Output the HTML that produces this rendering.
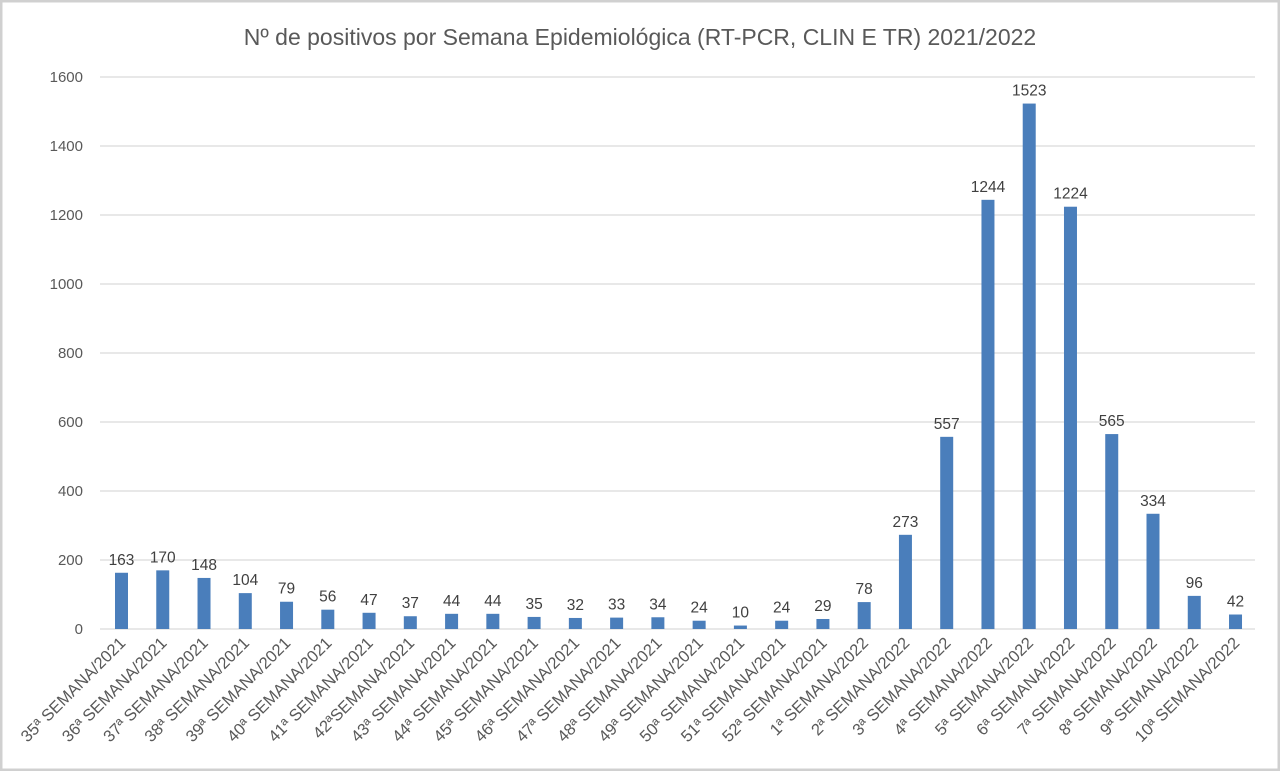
<!DOCTYPE html>
<html><head><meta charset="utf-8"><style>
html,body{margin:0;padding:0;background:#fff}
svg{display:block;font-family:"Liberation Sans",sans-serif}
</style></head><body>
<svg id="c" width="1280" height="771" xmlns="http://www.w3.org/2000/svg">
<rect x="1" y="1" width="1278" height="769" fill="#fff" stroke="#d0d0d0" stroke-width="3"/>
<text x="640" y="45" text-anchor="middle" font-size="23" fill="#595959">Nº de positivos por Semana Epidemiológica (RT-PCR, CLIN E TR) 2021/2022</text>
</svg>
<script>
var s=document.getElementById('c'),h='';
for(var k=0;k<=8;k++){var y=629-k*69;h+='<line x1="100" x2="1255" y1="'+y+'" y2="'+y+'" stroke="#d9d9d9" stroke-width="1.3"/>';
h+='<text x="83" y="'+(y+5)+'" text-anchor="end" font-size="15" fill="#595959">'+(k*200)+'</text>';}
var v=[163,170,148,104,79,56,47,37,44,44,35,32,33,34,24,10,24,29,78,273,557,1244,1523,1224,565,334,96,42];
var L=[];for(var i=0;i<28;i++){var n=i<18?(35+i):(i-17);var yr=i<18?2021:2022;
L.push(n+'ª'+(i==7?'':' ')+'SEMANA/'+yr);}
for(var i=0;i<28;i++){var cx=121.5+i*41.26,bh=v[i]*0.345,by=629-bh;
h+='<rect x="'+(cx-6.5)+'" y="'+by+'" width="13" height="'+bh+'" fill="#4a7ebb"/>';
h+='<text x="'+cx+'" y="'+(by-8)+'" text-anchor="middle" font-size="15.5" fill="#404040">'+v[i]+'</text>';
h+='<text transform="translate('+(cx+5)+',644) rotate(-45)" text-anchor="end" font-size="16.5" fill="#595959">'+L[i]+'</text>';}
s.insertAdjacentHTML('beforeend',h);
</script>
</body></html>
